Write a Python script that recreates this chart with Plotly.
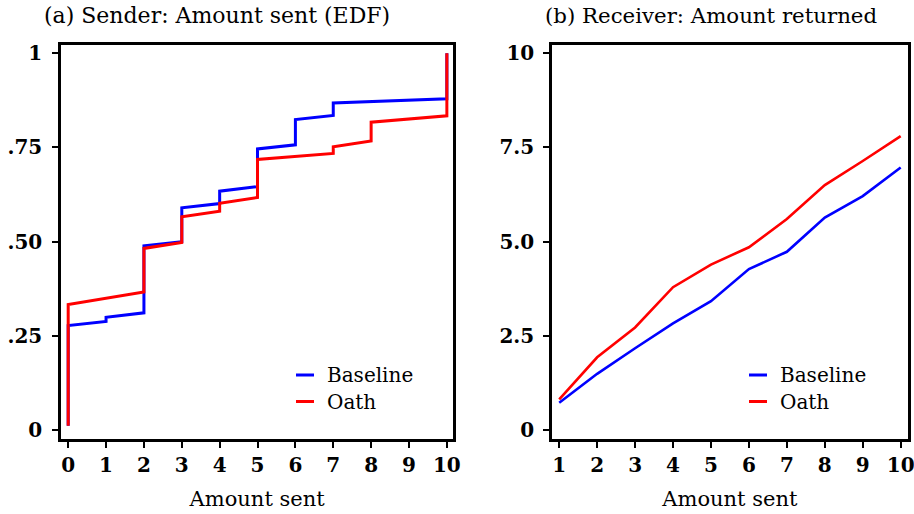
import plotly.graph_objects as go
from plotly.subplots import make_subplots

# ---- Data ----
# (a) Sender: empirical distribution of amount sent
edf_base_x = [0, 0, 1, 1, 2, 2, 3, 3, 4, 4, 5, 5, 6, 6, 7, 7, 10, 10]
edf_base_y = [0.011, 0.277, 0.288, 0.299, 0.311, 0.489, 0.500, 0.590, 0.601,
              0.634, 0.646, 0.746, 0.757, 0.824, 0.835, 0.868, 0.879, 1.0]
edf_oath_x = [0, 0, 2, 2, 3, 3, 4, 4, 5, 5, 7, 7, 8, 8, 10, 10]
edf_oath_y = [0.011, 0.333, 0.366, 0.482, 0.498, 0.566, 0.581, 0.602, 0.617,
              0.718, 0.734, 0.752, 0.767, 0.817, 0.834, 1.0]

# (b) Receiver: mean amount returned by amount sent
sent = [1, 2, 3, 4, 5, 6, 7, 8, 9, 10]
ret_base = [0.72, 1.49, 2.17, 2.83, 3.42, 4.27, 4.73, 5.64, 6.21, 6.97]
ret_oath = [0.81, 1.93, 2.72, 3.79, 4.39, 4.85, 5.60, 6.50, 7.14, 7.80]

left_yticks = [0, 0.25, 0.5, 0.75, 1]
left_yticklabels = ["0", ".25", ".50", ".75", "1"]
right_yticks = [0, 2.5, 5, 7.5, 10]
right_yticklabels = ["0", "2.5", "5.0", "7.5", "10"]
left_xticks = list(range(0, 11))
right_xticks = list(range(1, 11))

titles = ["(a) Sender: Amount sent (EDF)", "(b) Receiver: Amount returned"]
series_names = ["Baseline", "Oath"]
colors = ["#0000FF", "#FF0000"]

W, H = 914, 514


def px(x):
    return x / W


def py(y):
    return 1 - y / H


fig = make_subplots(rows=1, cols=2)

fig.add_trace(go.Scatter(x=edf_base_x, y=edf_base_y, mode="lines",
                         line=dict(color=colors[0], width=3), name=series_names[0],
                         showlegend=False), row=1, col=1)
fig.add_trace(go.Scatter(x=edf_oath_x, y=edf_oath_y, mode="lines",
                         line=dict(color=colors[1], width=3), name=series_names[1],
                         showlegend=False), row=1, col=1)
fig.add_trace(go.Scatter(x=sent, y=ret_base, mode="lines",
                         line=dict(color=colors[0], width=2.6), name=series_names[0],
                         showlegend=False), row=1, col=2)
fig.add_trace(go.Scatter(x=sent, y=ret_oath, mode="lines",
                         line=dict(color=colors[1], width=2.6), name=series_names[1],
                         showlegend=False), row=1, col=2)

tickfont = dict(family="DejaVu Serif", size=20, color="black", weight="bold")
axis_common = dict(showline=True, linecolor="black", linewidth=2.5, mirror=True,
                   showgrid=False, zeroline=False, ticks="outside", ticklen=6,
                   tickwidth=2, tickcolor="black", tickfont=tickfont, automargin=False,
                   ticklabeloverflow="allow")

ydom = [py(439), py(45)]
xtitle_font = dict(family="DejaVu Serif", size=21, color="black")
fig.update_xaxes(domain=[px(61), px(453.3)], range=[-0.19, 10.17],
                 tickvals=left_xticks, ticktext=[str(v) for v in left_xticks],
                 title=dict(text="Amount sent", font=xtitle_font, standoff=16),
                 row=1, col=1, **axis_common)
fig.update_xaxes(domain=[px(552), px(907.7)], range=[0.81, 10.185],
                 tickvals=right_xticks, ticktext=[str(v) for v in right_xticks],
                 title=dict(text="Amount sent", font=xtitle_font, standoff=16),
                 row=1, col=2, **axis_common)
fig.update_yaxes(domain=ydom, range=[-0.024, 1.022], tickvals=left_yticks,
                 ticktext=left_yticklabels, ticklabelstandoff=6, row=1, col=1, **axis_common)
fig.update_yaxes(domain=ydom, range=[-0.24, 10.22], tickvals=right_yticks,
                 ticktext=right_yticklabels, ticklabelstandoff=5, row=1, col=2, **axis_common)

annotations = []
shapes = []
# panel titles
for xs, t, fs in zip([42, 543], titles, [22, 21.3]):
    annotations.append(dict(x=px(xs), y=py(15), xref="paper", yref="paper",
                            text=t, showarrow=False, xanchor="left", yanchor="middle",
                            font=dict(family="DejaVu Serif", size=fs, color="black")))
# manual legends
for lx in [296, 749]:
    for i, (nm, c) in enumerate(zip(series_names, colors)):
        yy = 375 + i * 26.5
        shapes.append(dict(type="line", xref="paper", yref="paper",
                           x0=px(lx), x1=px(lx + 18), y0=py(yy), y1=py(yy),
                           line=dict(color=c, width=3)))
        annotations.append(dict(x=px(lx + 29), y=py(yy), xref="paper", yref="paper",
                                text=nm, showarrow=False, xanchor="left", yanchor="middle",
                                font=dict(family="DejaVu Serif", size=20, color="black")))

fig.update_layout(width=W, height=H, margin=dict(l=0, r=0, t=0, b=0),
                  paper_bgcolor="white", plot_bgcolor="white",
                  annotations=annotations, shapes=shapes, showlegend=False)

# remove the default 8px page margin so the figure fills the window exactly
fig.write_html("out.html", config={"displayModeBar": False},
               post_script="document.body.style.margin='0';document.body.style.overflow='hidden';")
